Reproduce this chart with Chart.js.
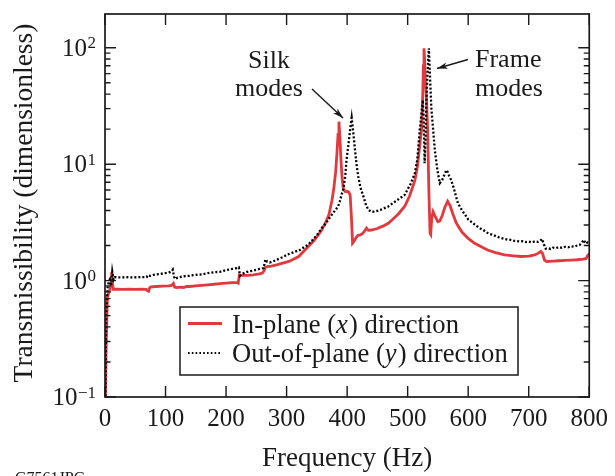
<!DOCTYPE html>
<html>
<head>
<meta charset="utf-8">
<script src="https://cdn.jsdelivr.net/npm/chart.js@4.4.1/dist/chart.umd.min.js"></script>
<style>
html,body{margin:0;padding:0;background:#ffffff;}
#wrap{width:615px;height:476px;position:relative;}
</style>
</head>
<body>
<div id="wrap"><canvas id="c" width="615" height="476"></canvas></div>
<script>
// ---------- data ----------
const inPlaneHz = [0.5,2,4,6,8,10,11,12.5,14,20,30,40,50,60,68,70,72,74,76,85,95,105,110,112,113,115,118,125,130,135,140,150,160,170,180,190,200,210,218,220,222,225,235,245,255,260,263,265,268,275,285,295,304,312,320,331,345,352,358,365,370,375,378,381,383,385,386.5,388,390,392,394,397,400,403,405,407,409,412,415,418,422,426,430,432,435,440,450,460,468,475,485,495,503,508,512,516,519,523,525,526,527,528,529,531,533,535,537,538,540,542,545,550,553,557,561,566,570,575,580,585,590,600,610,620,632,645,660,675,687,700,710,716,720,723,726,730,740,750,760,770,780,790,795,798,800];
const inPlaneT = [0.08,0.3,0.72,0.78,0.82,0.95,1.18,0.92,0.84,0.845,0.84,0.845,0.84,0.845,0.84,0.82,0.81,0.87,0.885,0.89,0.895,0.9,0.91,0.93,0.945,0.88,0.87,0.88,0.87,0.89,0.89,0.9,0.91,0.92,0.93,0.94,0.95,0.96,0.965,0.95,1.12,1.11,1.11,1.12,1.14,1.16,1.22,1.3,1.32,1.33,1.37,1.42,1.46,1.53,1.61,1.85,2.2,2.45,2.72,3.2,3.7,4.9,6.2,8.5,12,18,23.2,17,10.5,7.2,6.1,5.8,5.85,5.75,5.4,3.6,2.1,2.2,2.35,2.45,2.47,2.55,2.72,2.82,2.7,2.72,2.8,2.95,3.11,3.35,3.75,4.33,5.3,6.3,7.3,9.5,13,20,40,70,99,80,55,37,20,6,2.55,2.5,3.5,3.9,3.6,3.2,3.25,3.6,4.2,4.8,4.4,3.7,3.15,2.85,2.6,2.3,2.1,1.97,1.83,1.74,1.66,1.63,1.61,1.62,1.66,1.72,1.78,1.7,1.5,1.46,1.47,1.48,1.49,1.5,1.51,1.53,1.55,1.66,1.68];

const outPlaneHz = [0.5,2,4,6,8,10,12,14,16,25,35,45,55,65,69,70,75,80,90,100,105,110,112,114,116,120,130,140,150,160,170,180,190,200,210,218,221,223,226,235,245,255,262,265,268,272,280,290,295,300,305,310,315,320,325,331,336,340,345,350,358,365,370,375,380,385,388,391,394,397,399,402,405,407.5,410,413,416,418.5,422,427,431,435,440,446,455,468,480,495,505,512,516,520,523,525,526.5,528,529.5,531,533,535,537,539,542,545,549,553,557,561,564,566,569,572,577,583,590,597,600,605,610,615,620,625,630,635,640,645,650,655,660,665,670,675,680,685,690,695,700,705,710,715,719,722,725,728,732,736,740,745,750,755,760,765,770,775,780,784,788,791,794,797,800];
const outPlaneT = [0.08,0.5,0.85,0.97,1.02,0.9,1.19,1.02,1.07,1.065,1.07,1.065,1.07,1.07,1.07,1.11,1.1,1.12,1.14,1.16,1.17,1.2,1.24,1.08,1.03,1.06,1.09,1.1,1.12,1.13,1.16,1.18,1.19,1.23,1.26,1.28,1.3,1.1,1.14,1.19,1.22,1.26,1.28,1.52,1.45,1.43,1.48,1.56,1.6,1.66,1.7,1.74,1.78,1.8,1.88,1.96,2.05,2.15,2.3,2.45,2.82,3.1,3.4,3.7,4.0,4.33,4.8,5.5,6.2,8,10.9,14.5,20,25,19,13.3,9.5,7.8,6.3,5.27,4.5,4.05,3.9,3.91,4.05,4.33,4.8,5.44,6.8,8.4,11,19.7,28,35.5,25,10.2,16,35,65,99,55,31,20,13,9,6.86,7.3,8.2,8.9,8.6,7.8,7.3,6.0,4.62,4.0,3.55,3.35,3.2,3.05,2.92,2.8,2.72,2.6,2.52,2.48,2.42,2.36,2.32,2.28,2.25,2.24,2.2,2.19,2.17,2.18,2.14,2.16,2.13,2.17,2.15,2.2,2.28,2.05,1.88,1.9,1.87,1.92,1.9,1.94,1.91,1.95,1.93,1.97,1.95,2.0,2.02,2.12,2.24,2.08,2.12,2.02];

const seriesNames = ['In-plane (x) direction', 'Out-of-plane (y) direction'];
const xTickValues = [0,100,200,300,400,500,600,700,800];
const yDecades = [0.1,1,10,100];
const yDecadeExponents = ['\u22121','0','1','2'];
const yMinorMultipliers = [2,3,4,5,6,7,8,9];
const xTitle = 'Frequency (Hz)';
const yTitle = 'Transmissibility (dimensionless)';
const silkNote = ['Silk','modes'];
const frameNote = ['Frame','modes'];
const figureId = 'G7561JPG';

// ---------- styles ----------
const RED = '#e1393d';
const INK = '#1a1a1a';
const SERIF = '"Liberation Serif", "Times New Roman", serif';

function toPoints(xs, ys){ return xs.map((x,i)=>({x:x, y:ys[i]})); }

const decor = {
  id: 'decor',
  afterDraw(chart){
    const ctx = chart.ctx;
    const xs = chart.scales.x, ys = chart.scales.y;
    const {left:L, right:R, top:T, bottom:B} = chart.chartArea;
    ctx.save();
    // frame
    ctx.strokeStyle = INK;
    ctx.lineWidth = 1.7;
    ctx.strokeRect(L, T, R-L, B-T);
    // x ticks (inward, bottom and top)
    ctx.lineWidth = 1.4;
    ctx.beginPath();
    xTickValues.forEach(v=>{
      const px = xs.getPixelForValue(v);
      ctx.moveTo(px, B); ctx.lineTo(px, B-11);
      ctx.moveTo(px, T); ctx.lineTo(px, T+11);
    });
    // y ticks (inward, left and right)
    yDecades.forEach(d=>{
      const py = ys.getPixelForValue(d);
      ctx.moveTo(L, py); ctx.lineTo(L+11, py);
      ctx.moveTo(R, py); ctx.lineTo(R-11, py);
      yMinorMultipliers.forEach(m=>{
        const v = d*m;
        if (v > ys.max) return;
        const pm = ys.getPixelForValue(v);
        ctx.moveTo(L, pm); ctx.lineTo(L+5.5, pm);
        ctx.moveTo(R, pm); ctx.lineTo(R-5.5, pm);
      });
    });
    ctx.stroke();

    // y tick labels 10^n
    ctx.fillStyle = INK;
    ctx.textBaseline = 'alphabetic';
    yDecades.forEach((d,i)=>{
      const py = ys.getPixelForValue(d);
      ctx.font = '17px ' + SERIF;
      const ew = ctx.measureText(yDecadeExponents[i]).width;
      const rightEdge = L - 9;
      ctx.textAlign = 'left';
      ctx.fillText(yDecadeExponents[i], rightEdge - ew, py + 0.5);
      ctx.font = '25px ' + SERIF;
      ctx.textAlign = 'right';
      ctx.fillText('10', rightEdge - ew - 0.5, py + 8.3);
    });

    // axis titles
    ctx.font = '27px ' + SERIF;
    ctx.textAlign = 'center';
    ctx.fillText(xTitle, (L+R)/2, 466);
    ctx.save();
    ctx.translate(32, 203);
    ctx.rotate(-Math.PI/2);
    ctx.font = '27.5px ' + SERIF;
    ctx.fillText(yTitle, 0, 0);
    ctx.restore();

    // annotations
    ctx.font = '26px ' + SERIF;
    ctx.textAlign = 'center';
    ctx.fillText(silkNote[0], 269, 68);
    ctx.fillText(silkNote[1], 269, 96);
    ctx.textAlign = 'left';
    ctx.fillText(frameNote[0], 475, 67);
    ctx.fillText(frameNote[1], 475, 96);
    drawArrow(ctx, 312, 89, 343, 118);
    drawArrow(ctx, 468, 59.5, 437, 68.5);

    // legend
    const bx = 180, by = 307, bw = 338, bh = 68;
    ctx.fillStyle = '#ffffff';
    ctx.fillRect(bx, by, bw, bh);
    ctx.strokeStyle = INK;
    ctx.lineWidth = 1.5;
    ctx.strokeRect(bx, by, bw, bh);
    ctx.strokeStyle = RED;
    ctx.lineWidth = 2.8;
    ctx.beginPath(); ctx.moveTo(188, 323.5); ctx.lineTo(222, 323.5); ctx.stroke();
    ctx.strokeStyle = '#000';
    ctx.lineWidth = 1.8;
    ctx.setLineDash([1.6, 2.2]);
    ctx.beginPath(); ctx.moveTo(188, 353); ctx.lineTo(222, 353); ctx.stroke();
    ctx.setLineDash([]);
    ctx.fillStyle = INK;
    drawMixed(ctx, seriesNames[0], 232, 333);
    drawMixed(ctx, seriesNames[1], 232, 361.5);

    // figure id (cropped at bottom edge)
    ctx.font = '16px ' + SERIF;
    ctx.textAlign = 'left';
    ctx.fillText(figureId, 15, 483);
    ctx.restore();
  }
};

function drawMixed(ctx, text, x, y){
  // italicise the single-letter variable inside parentheses
  const m = text.match(/^(.*\()(\w)(\).*)$/);
  const parts = m ? [[m[1],false],[m[2],true],[m[3],false]] : [[text,false]];
  ctx.textAlign = 'left';
  let cx = x;
  parts.forEach(([s,it])=>{
    ctx.font = (it ? 'italic ' : '') + '26.6px ' + SERIF;
    ctx.fillText(s, cx, y);
    cx += ctx.measureText(s).width + (it ? 1 : 0);
  });
}

function drawArrow(ctx, x0, y0, x1, y1){
  ctx.save();
  ctx.strokeStyle = INK;
  ctx.lineWidth = 1.4;
  ctx.beginPath(); ctx.moveTo(x0,y0); ctx.lineTo(x1,y1); ctx.stroke();
  const a = Math.atan2(y1-y0, x1-x0);
  const len = 11, spread = 0.3;
  ctx.fillStyle = INK;
  ctx.beginPath();
  ctx.moveTo(x1, y1);
  ctx.lineTo(x1 - len*Math.cos(a-spread), y1 - len*Math.sin(a-spread));
  ctx.lineTo(x1 - len*0.7*Math.cos(a), y1 - len*0.7*Math.sin(a));
  ctx.lineTo(x1 - len*Math.cos(a+spread), y1 - len*Math.sin(a+spread));
  ctx.closePath();
  ctx.fill();
  ctx.restore();
}

new Chart(document.getElementById('c'), {
  type: 'line',
  data: {
    datasets: [
      {
        label: seriesNames[1],
        data: toPoints(outPlaneHz, outPlaneT),
        borderColor: '#000000',
        borderWidth: 2.3,
        borderDash: [2, 2],
        pointRadius: 0,
        tension: 0,
        fill: false
      },
      {
        label: seriesNames[0],
        data: toPoints(inPlaneHz, inPlaneT),
        borderColor: RED,
        borderWidth: 2.8,
        pointRadius: 0,
        tension: 0,
        fill: false
      }
    ]
  },
  options: {
    responsive: false,
    devicePixelRatio: 1,
    animation: false,
    events: [],
    layout: { padding: { left: 0, right: 23, top: 14, bottom: 0 } },
    plugins: { legend: { display: false }, tooltip: { enabled: false }, title: { display: false } },
    scales: {
      x: {
        type: 'linear',
        min: 0, max: 800,
        afterBuildTicks(s){ s.ticks = xTickValues.map(v=>({value:v})); },
        afterFit(s){ s.height = 79; },
        grid: { display: false, drawTicks: false },
        border: { display: false },
        ticks: {
          color: INK,
          font: { family: SERIF, size: 25 },
          padding: 7,
          maxRotation: 0,
          autoSkip: false
        }
      },
      y: {
        type: 'logarithmic',
        min: 0.1, max: 195,
        afterFit(s){ s.width = 105; },
        grid: { display: false, drawTicks: false },
        border: { display: false },
        ticks: { display: false }
      }
    }
  },
  plugins: [decor]
});
</script>
</body>
</html>
